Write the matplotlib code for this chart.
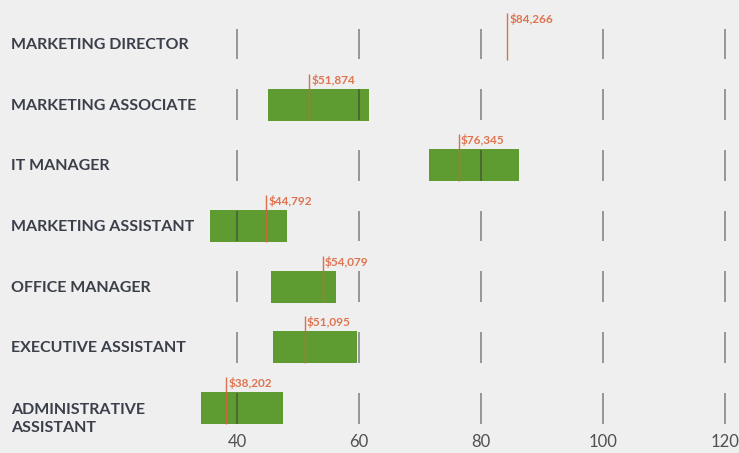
import matplotlib
matplotlib.use("Agg")
import matplotlib.pyplot as plt
from matplotlib import transforms

jobs = ["MARKETING DIRECTOR", "MARKETING ASSOCIATE", "IT MANAGER", "MARKETING ASSISTANT",
        "OFFICE MANAGER", "EXECUTIVE ASSISTANT", "ADMINISTRATIVE\nASSISTANT"]
range_low = [None, 45.0, 71.5, 35.6, 45.6, 45.9, 34.1]
range_high = [None, 61.6, 86.2, 48.2, 56.2, 59.7, 47.5]
median = [84.266, 51.874, 76.345, 44.792, 54.079, 51.095, 38.202]
median_labels = ["$84,266", "$51,874", "$76,345", "$44,792", "$54,079", "$51,095", "$38,202"]
xticks = [40, 60, 80, 100, 120]

BG = "#efefef"
GREEN = "#5e9b31"
RED = "#d5643f"
RED_TXT = "#e0734f"
DARK = "#3b3f4a"

fig = plt.figure(figsize=(7.39, 4.53), dpi=100, facecolor=BG)
ax = fig.add_axes([198 / 739, 23 / 453, 1 - 198 / 739, 430 / 453], facecolor=BG)
ax.set_xlim(33.6, 122.3)
ax.set_ylim(6.362, -0.725)

for i in range(len(jobs)):
    if range_low[i] is not None:
        ax.barh(i, range_high[i] - range_low[i], left=range_low[i], height=0.527,
                color=GREEN, zorder=1)
    ax.vlines(xticks, i - 0.255, i + 0.255, color="#333333", alpha=0.55, lw=1.2, zorder=2)
    ax.vlines(median[i], i - 0.51, i + 0.26, color=RED, lw=1.0, alpha=0.9, zorder=3)
    ax.text(median[i] + 0.35, i - 0.41, median_labels[i], color=RED_TXT, fontsize=8.5,
            fontweight="bold", family=["Lato", "DejaVu Sans"], va="center", ha="left", zorder=4)

trans = transforms.blended_transform_factory(fig.transFigure, ax.transData)
for i, lab in enumerate(jobs):
    nlines = lab.count("\n")
    ax.text(11 / 739, i + 0.08 + nlines * 0.32, lab, transform=trans, fontsize=11.5,
            fontweight="bold", family=["Lato", "DejaVu Sans"], color=DARK,
            va="baseline", ha="left", linespacing=1.37)

ax.set_xticks(xticks)
ax.set_xticklabels([str(t) for t in xticks])
ax.tick_params(axis="x", length=0, pad=3, labelsize=12, labelcolor="#505050")
for lbl in ax.get_xticklabels():
    lbl.set_family(["Lato", "DejaVu Sans"])
ax.set_yticks([])
for s in ax.spines.values():
    s.set_visible(False)

fig.savefig("out.png", dpi=100, facecolor=BG)
